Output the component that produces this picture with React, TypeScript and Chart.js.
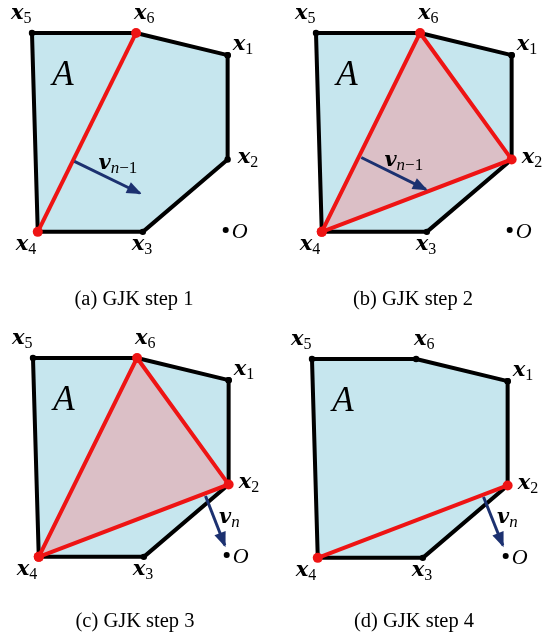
import React, { useEffect, useRef } from 'react';
import { Chart, registerables } from 'chart.js';

Chart.register(...registerables);

// ---- data (units: polygon coordinates, origin O at 0,0) ----
const vertexSubscripts = ['1', '2', '3', '4', '5', '6'];
const vertexX = [0.2, 0.2, -8.6, -19.5, -20.1, -9.3];
const vertexY = [18.1, 7.3, -0.2, -0.2, 20.4, 20.4];
const originX = 0;
const originY = 0;
const stepCaptions = ['(a) GJK step 1', '(b) GJK step 2', '(c) GJK step 3', '(d) GJK step 4'];
const simplexIndices = [[3, 5], [3, 5, 1], [3, 5, 1], [3, 1]];
const arrowStartX = [-15.7, -15.4, -2.2, -2.3];
const arrowStartY = [7.1, 7.5, 6.1, 6.1];
const arrowEndX = [-8.9, -8.7, -0.2, -0.3];
const arrowEndY = [3.8, 4.2, 1.0, 1.1];
const arrowSubscripts = ['n−1', 'n−1', 'n', 'n'];
const arrowLabelX = [-13.2, -13.0, -0.8, -0.9];
const arrowLabelY = [6.3, 6.6, 3.3, 3.4];
const setLabel = 'A';
const setLabelX = -18.0;
const setLabelY = 15.0;

// ---- styles ----
const BLUE = '#c6e6ee';
const PINK = '#dbbfc6';
const RED = '#ee1414';
const NAVY = '#1c3170';
const SERIF = '"Liberation Serif", "Times New Roman", serif';
const BOLD_IT = `bold italic 21px "DejaVu Serif", serif`;
const IT_SUB = `italic 17px ${SERIF}`;
const SUB = `16px ${SERIF}`;
const VERTEX_LABEL_OFFSETS = [
  [5, -5],
  [10, 4],
  [-11, 18],
  [-22, 18],
  [-21, -14],
  [-2, -14],
];
const PANEL_ORIGINS = [
  [229, 233],
  [513, 233],
  [230, 558],
  [509, 559],
];
const CAPTION_POS = [
  [134, 305],
  [413, 305],
  [135, 627],
  [414, 627],
];
const CANVAS_W = 276;
const CANVAS_H = 290;
const O_IN_CANVAS = [229, 234];
const PX_PER_UNIT = 10;

type Part = { text: string; font: string; dy?: number };

function drawParts(ctx: CanvasRenderingContext2D, x: number, y: number, parts: Part[]) {
  let cx = x;
  for (const p of parts) {
    ctx.font = p.font;
    ctx.fillText(p.text, cx, y + (p.dy || 0));
    cx += ctx.measureText(p.text).width;
  }
}

function makeLabelPlugin(step: number) {
  return {
    id: 'gjkLabels',
    afterDatasetsDraw(chart: any) {
      const ctx: CanvasRenderingContext2D = chart.ctx;
      const xs = chart.scales.x;
      const ys = chart.scales.y;
      const px = (v: number) => xs.getPixelForValue(v);
      const py = (v: number) => ys.getPixelForValue(v);
      ctx.save();
      ctx.textAlign = 'left';
      ctx.textBaseline = 'alphabetic';

      // arrow head
      const sx = px(arrowStartX[step]);
      const sy = py(arrowStartY[step]);
      const ex = px(arrowEndX[step]);
      const ey = py(arrowEndY[step]);
      const ang = Math.atan2(ey - sy, ex - sx);
      const c = Math.cos(ang);
      const s = Math.sin(ang);
      const tx = ex + 2 * c;
      const ty = ey + 2 * s;
      const L = 15;
      const W = 6;
      ctx.fillStyle = NAVY;
      ctx.beginPath();
      ctx.moveTo(tx, ty);
      ctx.lineTo(tx - L * c + W * s, ty - L * s - W * c);
      ctx.lineTo(tx - L * c - W * s, ty - L * s + W * c);
      ctx.closePath();
      ctx.fill();

      ctx.fillStyle = '#000';
      // vertex labels
      vertexSubscripts.forEach((sub, i) => {
        const off = VERTEX_LABEL_OFFSETS[i];
        drawParts(ctx, px(vertexX[i]) + off[0], py(vertexY[i]) + off[1], [
          { text: 'x', font: BOLD_IT },
          { text: sub, font: SUB, dy: 4 },
        ]);
      });
      // origin label
      drawParts(ctx, px(originX) + 6, py(originY) + 8, [{ text: 'O', font: `italic 22px ${SERIF}` }]);
      // set label
      drawParts(ctx, px(setLabelX), py(setLabelY), [{ text: setLabel, font: `italic 35px ${SERIF}` }]);
      // direction label
      const subText = arrowSubscripts[step];
      const parts: Part[] = [{ text: 'v', font: BOLD_IT }, { text: subText.charAt(0), font: IT_SUB, dy: 4 }];
      if (subText.length > 1) parts.push({ text: subText.slice(1), font: `17px ${SERIF}`, dy: 4 });
      drawParts(ctx, px(arrowLabelX[step]), py(arrowLabelY[step]), parts);
      ctx.restore();
    },
  };
}

function Panel({ step }: { step: number }) {
  const ref = useRef<HTMLCanvasElement | null>(null);
  useEffect(() => {
    if (!ref.current) return;
    const pts = vertexX.map((x, i) => ({ x, y: vertexY[i] }));
    const closed = [...pts, pts[0]];
    const simplex = simplexIndices[step].map((i) => pts[i]);
    const simplexLine = simplex.length > 2 ? [...simplex, simplex[0]] : simplex;
    const xMin = -O_IN_CANVAS[0] / PX_PER_UNIT;
    const xMax = (CANVAS_W - O_IN_CANVAS[0]) / PX_PER_UNIT;
    const yMax = O_IN_CANVAS[1] / PX_PER_UNIT;
    const yMin = -(CANVAS_H - O_IN_CANVAS[1]) / PX_PER_UNIT;
    const chart = new Chart(ref.current, {
      type: 'line',
      data: {
        datasets: [
          {
            data: [
              { x: arrowStartX[step], y: arrowStartY[step] },
              { x: arrowEndX[step], y: arrowEndY[step] },
            ],
            showLine: true,
            borderColor: NAVY,
            borderWidth: 3,
            pointRadius: 0,
            fill: false,
            order: 1,
          },
          {
            data: simplexLine,
            showLine: true,
            fill: simplex.length > 2 ? 'shape' : false,
            backgroundColor: PINK,
            borderColor: RED,
            borderWidth: 4,
            pointRadius: 5,
            pointBackgroundColor: RED,
            pointBorderWidth: 0,
            order: 2,
          },
          {
            data: [{ x: originX, y: originY }],
            showLine: false,
            pointRadius: 3,
            pointBackgroundColor: '#000',
            pointBorderWidth: 0,
            order: 3,
          },
          {
            data: closed,
            showLine: true,
            fill: 'shape',
            backgroundColor: BLUE,
            borderColor: '#000',
            borderWidth: 4,
            borderJoinStyle: 'round',
            pointRadius: 3.2,
            pointBackgroundColor: '#000',
            pointBorderWidth: 0,
            order: 4,
          },
        ] as any,
      },
      options: {
        animation: false,
        responsive: false,
        maintainAspectRatio: false,
        events: [],
        layout: { padding: 0 },
        elements: { line: { tension: 0 } },
        plugins: {
          legend: { display: false },
          tooltip: { enabled: false },
          title: { display: false },
        },
        scales: {
          x: { type: 'linear', display: false, min: xMin, max: xMax },
          y: { type: 'linear', display: false, min: yMin, max: yMax },
        },
      } as any,
      plugins: [makeLabelPlugin(step)],
    });
    return () => chart.destroy();
  }, [step]);
  const [ox, oy] = PANEL_ORIGINS[step];
  return (
    <canvas
      ref={ref}
      width={CANVAS_W}
      height={CANVAS_H}
      style={{
        position: 'absolute',
        left: ox - O_IN_CANVAS[0],
        top: oy - O_IN_CANVAS[1],
        width: CANVAS_W,
        height: CANVAS_H,
      }}
    />
  );
}

export default function App() {
  return (
    <div
      style={{
        position: 'absolute',
        left: 0,
        top: 0,
        width: 552,
        height: 639,
        overflow: 'hidden',
        background: '#fff',
      }}
    >
      {stepCaptions.map((_, i) => (
        <Panel key={i} step={i} />
      ))}
      {stepCaptions.map((cap, i) => (
        <div
          key={'c' + i}
          style={{
            position: 'absolute',
            left: CAPTION_POS[i][0] - 100,
            top: CAPTION_POS[i][1] - 17,
            width: 200,
            textAlign: 'center',
            fontFamily: SERIF,
            fontSize: 20.5,
            lineHeight: '21px',
            color: '#000',
            whiteSpace: 'nowrap',
          }}
        >
          {cap}
        </div>
      ))}
    </div>
  );
}
